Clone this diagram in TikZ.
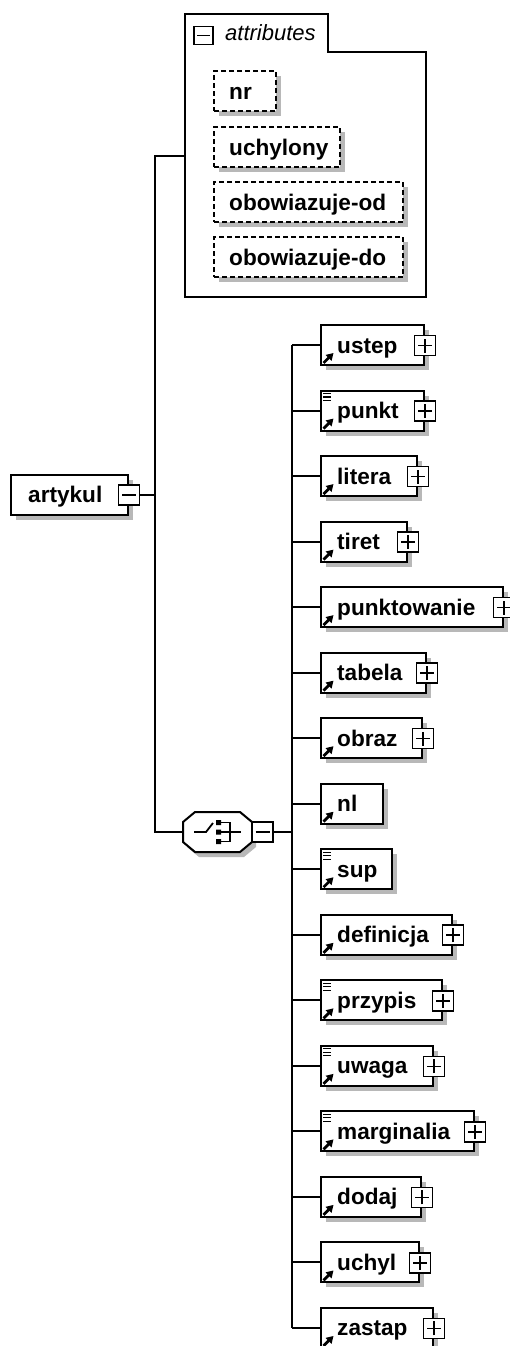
\documentclass[tikz,border=0pt]{standalone}
\usepackage{fontspec}
\setmainfont{Liberation Sans}
\usetikzlibrary{shadows,arrows.meta,calc}
\begin{document}
\begin{tikzpicture}[x=1pt,y=-1pt,
  shadowed/.style={drop shadow={shadow xshift=5pt,shadow yshift=-5pt,fill=black!28,opacity=1}},
  elem/.style={draw, line width=2pt, fill=white, shadowed, minimum height=40pt, inner sep=0pt, anchor=north west},
  attrbox/.style={elem, dash pattern=on 5pt off 3pt},
  lbl/.style={inner sep=0pt, anchor=base west, font=\bfseries\fontsize{22.6}{24}\selectfont},
  pm/.style={draw, line width=1.6pt, fill=white, minimum width=20pt, minimum height=20pt, inner sep=0pt},
  sign/.style={line width=1.6pt},
  conn/.style={line width=2pt},
  refarrow/.style={line width=2.8pt, -{Triangle[length=7pt,width=8pt]}},
  lines/.style={line width=1.2pt}]
\useasboundingbox (0,0) rectangle (509,1346);

% attributes container
\node[minimum width=241pt, minimum height=283pt, inner sep=0pt, anchor=north west] (attr) at (185,14) {};
\draw[line width=2pt] (185,14) -- (328,14) -- (328,52) -- (426,52) -- (426,297) -- (185,297) -- cycle;
\node[pm, minimum width=19pt, minimum height=18pt] (attr-m) at (203.5,35.5) {};
\draw[sign] ([xshift=-6.5pt]attr-m.center) -- ([xshift=6.5pt]attr-m.center);
\node[inner sep=0pt, anchor=base west, font=\itshape\fontsize{22}{24}\selectfont] (attr-t) at (225,41) {attributes};

\foreach \n/\t/\w in {nr/70/62, uchylony/126/126, obowiazuje-od/181/189, obowiazuje-do/236/189}{
  \node[attrbox, minimum width=\w pt] (\n) at (213,\t) {};
  \node[lbl] (\n-t) at ([xshift=16pt,yshift=-8.5pt]\n.west) {\n};
}

% artykul
\node[elem, minimum width=117pt] (artykul) at (10,474) {};
\node[lbl] (artykul-t) at ([xshift=18pt,yshift=-7pt]artykul.west) {artykul};
\node[pm, minimum width=21pt] (art-m) at (artykul.east) {};
\draw[sign] ([xshift=-7pt]art-m.center) -- ([xshift=7pt]art-m.center);

% choice
\node[minimum width=69pt, minimum height=40pt, inner sep=0pt] (choice) at (217.5,832) {};
\fill[black!28, shift={(4,5)}] (195,812) -- (240,812) -- (252,822) -- (252,842) -- (240,852) -- (195,852) -- (183,842) -- (183,822) -- cycle;
\draw[line width=2pt, fill=white] (195,812) -- (240,812) -- (252,822) -- (252,842) -- (240,852) -- (195,852) -- (183,842) -- (183,822) -- cycle;
\draw[line width=1.8pt] (194,832) -- (206,832) -- (213,823);
\fill (216,820) rectangle (221,825) (216,829.5) rectangle (221,834.5) (216,839) rectangle (221,844);
\draw[line width=1.6pt] (221,822.5) -- (230,822.5) -- (230,841.5) -- (221,841.5) (221,832) -- (241,832);
\node[pm, minimum width=21pt] (choice-m) at (262.5,832) {};
\draw[sign] ([xshift=-7pt]choice-m.center) -- ([xshift=7pt]choice-m.center);

% buses
\coordinate (abus) at (155,0);
\coordinate (bus) at (292,0);
\draw[conn] (art-m.east) -- (art-m.east -| abus);
\draw[conn] (attr.west) -- (attr.west -| abus) -- (choice.west -| abus) -- (choice.west);
\draw[conn] (choice-m.east) -- (choice-m.east -| bus);

% children
\foreach \n/\i/\w/\p/\l in {ustep/0/103/1/0, punkt/1/103/1/1, litera/2/96/1/0, tiret/3/86/1/0,
  punktowanie/4/182/1/0, tabela/5/105/1/0, obraz/6/101/1/0, nl/7/62/0/0, sup/8/71/0/1,
  definicja/9/131/1/0, przypis/10/121/1/1, uwaga/11/112/1/1, marginalia/12/153/1/1,
  dodaj/13/100/1/0, uchyl/14/98/1/0, zastap/15/112/1/0}{
  \pgfmathsetmacro\tp{324+65.53*\i}
  \node[elem, minimum width=\w pt] (\n) at (320,\tp) {};
  \draw[conn] (\n.west -| bus) -- (\n.west);
  \node[lbl] (\n-t) at ([xshift=17pt,yshift=-8pt]\n.west) {\n};
  \draw[refarrow] ([xshift=3.5pt,yshift=3pt]\n.south west) -- ++(10,-10);
  \ifnum\l=1
    \draw[lines] ([xshift=3pt,yshift=-4pt]\n.north west) -- ++(8,0)
                 ([xshift=3pt,yshift=-7.5pt]\n.north west) -- ++(8,0)
                 ([xshift=3pt,yshift=-11pt]\n.north west) -- ++(8,0);
  \fi
  \ifnum\p=1
    \node[pm, minimum width=21pt] (\n-p) at ([yshift=-0.5pt]\n.east) {};
    \draw[sign] ([xshift=-7pt]\n-p.center) -- ([xshift=7pt]\n-p.center)
                ([yshift=-7pt]\n-p.center) -- ([yshift=7pt]\n-p.center);
  \fi
}
\draw[conn] (ustep.west -| bus) -- (zastap.west -| bus);
\end{tikzpicture}
\end{document}
